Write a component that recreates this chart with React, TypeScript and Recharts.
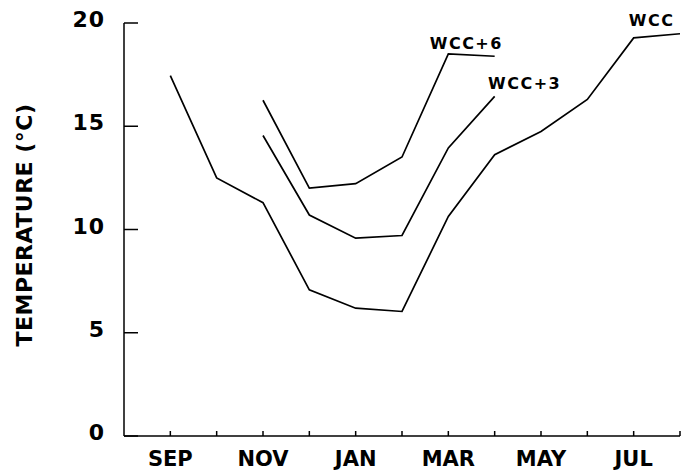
import React from 'react';
import { LineChart, Line, XAxis, YAxis } from 'recharts';

const monthPositions = [1, 2, 3, 4, 5, 6, 7, 8, 9, 10, 11, 12];
const monthLabels = ['SEP', '', 'NOV', '', 'JAN', '', 'MAR', '', 'MAY', '', 'JUL', ''];
const wcc = [17.45, 12.5, 11.3, 7.08, 6.19, 6.03, 10.63, 13.62, 14.75, 16.3, 19.28, 19.48];
const wcc3 = [null, null, 14.55, 10.7, 9.58, 9.71, 13.95, 16.45, null, null, null, null];
const wcc6 = [null, null, 16.26, 12.0, 12.22, 13.51, 18.5, 18.39, null, null, null, null];
const yTicks = [0, 5, 10, 15, 20];

const data = monthPositions.map((m, i) => ({
  x: m,
  wcc: wcc[i],
  wcc3: wcc3[i],
  wcc6: wcc6[i],
}));

const FONT = '"DejaVu Sans", "Liberation Sans", Arial, sans-serif';

const XTick = (props: any) => {
  const { x, y, payload } = props;
  const idx = monthPositions.indexOf(payload.value);
  const label = idx >= 0 ? monthLabels[idx] : '';
  return (
    <text x={x} y={y + 12} textAnchor="middle" fontFamily={FONT} fontWeight="bold" fontSize={21} fill="#000">
      {label}
    </text>
  );
};

const YTick = (props: any) => {
  const { x, y, payload } = props;
  return (
    <text x={x} y={y + 4} textAnchor="end" fontFamily={FONT} fontWeight="bold" fontSize={22} letterSpacing={1} fill="#000">
      {payload.value}
    </text>
  );
};

const makeLabel = (text: string, idx: number, dx: number, dy: number) => (props: any) => {
  const { x, y, index } = props;
  if (index !== idx) return null;
  return (
    <text key={text} x={x + dx} y={y + dy} textAnchor="middle" fontFamily={FONT} fontWeight="bold" fontSize={16} letterSpacing={1.5} fill="#000">
      {text}
    </text>
  );
};

const YTitle = () => (
  <text
    x={24}
    y={225}
    transform="rotate(-90, 24, 225)"
    textAnchor="middle"
    dominantBaseline="central"
    fontFamily={FONT}
    fontWeight="bold"
    fontSize={22}
    letterSpacing={0.5}
    fill="#000"
  >
    TEMPERATURE (°C)
  </text>
);

export default function App() {
  return (
    <div style={{ position: 'absolute', left: 0, top: 0, background: '#fff' }}>
      <LineChart width={681} height={471} data={data} margin={{ top: 23, right: 1, bottom: 0, left: 0 }}>
        <XAxis
          dataKey="x"
          type="number"
          domain={[0, 12]}
          ticks={monthPositions}
          interval={0}
          height={35}
          tickSize={-5}
          tickMargin={23}
          tick={<XTick />}
          stroke="#000"
          strokeWidth={1.5}
          allowDecimals={false}
        />
        <YAxis
          type="number"
          domain={[0, 20]}
          ticks={yTicks}
          interval={0}
          width={124}
          tickSize={-14}
          tickMargin={33}
          tick={<YTick />}
          stroke="#000"
          strokeWidth={1.5}
          label={<YTitle />}
        />
        <Line dataKey="wcc" stroke="#000" strokeWidth={1.7} dot={false} isAnimationActive={false} connectNulls={false}
          label={makeLabel('WCC', 10, 18, -12)} />
        <Line dataKey="wcc3" stroke="#000" strokeWidth={1.7} dot={false} isAnimationActive={false} connectNulls={false}
          label={makeLabel('WCC+3', 7, 30, -7)} />
        <Line dataKey="wcc6" stroke="#000" strokeWidth={1.7} dot={false} isAnimationActive={false} connectNulls={false}
          label={makeLabel('WCC+6', 6, 18, -5)} />
      </LineChart>
    </div>
  );
}
